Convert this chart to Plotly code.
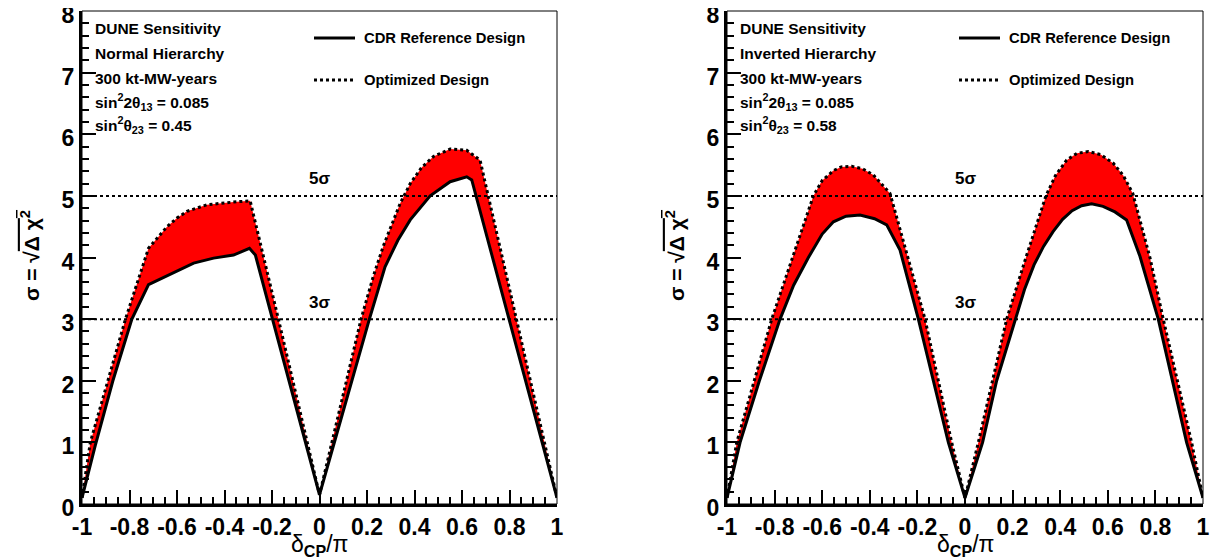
import numpy as np
import plotly.graph_objects as go

# ---------------- data ----------------
NH_CDR_X = [-1, -0.944, -0.87, -0.79, -0.72, -0.614, -0.53, -0.446, -0.362, -0.295, -0.27, -0.198, 0,
            0.21, 0.276, 0.33, 0.382, 0.466, 0.55, 0.62, 0.641, 0.798, 1]
NH_CDR_Y = [0.1, 0.95, 2.0, 3.0, 3.56, 3.75, 3.91, 3.99, 4.04, 4.15, 4.04, 3.0, 0.15,
            3.0, 3.85, 4.28, 4.61, 5.0, 5.23, 5.31, 5.26, 3.0, 0.1]
NH_OPT_X = [-1, -0.965, -0.817, -0.72, -0.642, -0.6, -0.558, -0.474, -0.362, -0.292, -0.173, 0,
            0.175, 0.227, 0.27, 0.34, 0.382, 0.43, 0.48, 0.55, 0.62, 0.676, 0.829, 1]
NH_OPT_Y = [0.1, 1.0, 3.0, 4.15, 4.5, 4.64, 4.75, 4.855, 4.9, 4.92, 3.0, 0.15,
            3.0, 3.7, 4.2, 4.88, 5.2, 5.46, 5.64, 5.76, 5.74, 5.58, 3.0, 0.1]

IH_CDR_X = [-1, -0.945, -0.864, -0.777, -0.72, -0.658, -0.6, -0.553, -0.5, -0.441, -0.38, -0.329,
            -0.273, -0.196, -0.133, -0.07, 0,
            0.074, 0.133, 0.21, 0.25, 0.29, 0.33, 0.37, 0.41, 0.45, 0.49, 0.532, 0.58, 0.63, 0.679,
            0.735, 0.812, 0.931, 1]
IH_CDR_Y = [0.1, 1, 2, 3, 3.55, 4, 4.38, 4.58, 4.67, 4.69, 4.63, 4.53,
            4.12, 3, 2, 1, 0.1,
            1, 2, 3, 3.48, 3.88, 4.18, 4.42, 4.62, 4.76, 4.84, 4.87, 4.83, 4.74, 4.61,
            4.02, 3, 1, 0.1]
IH_OPT_X = [-1, -0.959, -0.812, -0.725, -0.637, -0.6, -0.553, -0.52, -0.476, -0.43, -0.385, -0.315,
            -0.168, -0.056, 0,
            0.056, 0.175, 0.256, 0.34, 0.38, 0.427, 0.47, 0.518, 0.57, 0.623, 0.665, 0.705, 0.777,
            0.833, 0.952, 1]
IH_OPT_Y = [0.1, 1, 3, 4, 5, 5.25, 5.41, 5.47, 5.48, 5.44, 5.34, 5.04,
            3, 1, 0.1,
            1, 3, 4, 5, 5.33, 5.58, 5.69, 5.72, 5.67, 5.53, 5.33, 5.04, 4.0,
            3, 1, 0.1]

SIGMA_LEVELS = [3, 5]
SIGMA_LABELS = ["3σ", "5σ"]
X_TICKS = [-1, -0.8, -0.6, -0.4, -0.2, 0, 0.2, 0.4, 0.6, 0.8, 1]
X_TICK_LABELS = ["-1", "-0.8", "-0.6", "-0.4", "-0.2", "0", "0.2", "0.4", "0.6", "0.8", "1"]
Y_TICKS = [0, 1, 2, 3, 4, 5, 6, 7, 8]
Y_TICK_LABELS = ["0", "1", "2", "3", "4", "5", "6", "7", "8"]

PANEL_TEXT = [
    ["DUNE Sensitivity", "Normal Hierarchy", "300 kt-MW-years",
     "sin<sup>2</sup>2θ<sub>13</sub> = 0.085", "sin<sup>2</sup>θ<sub>23</sub> = 0.45"],
    ["DUNE Sensitivity", "Inverted Hierarchy", "300 kt-MW-years",
     "sin<sup>2</sup>2θ<sub>13</sub> = 0.085", "sin<sup>2</sup>θ<sub>23</sub> = 0.58"],
]
LEGEND_NAMES = ["CDR Reference Design", "Optimized Design"]

# ---------------- layout geometry ----------------
PAGE_OFF = 8                       # default page margin around the plot div
W, H = 1221 - PAGE_OFF, 560 - PAGE_OFF
FONT = "Liberation Sans, Arial, Helvetica, sans-serif"
PANEL_PX = [(82, 557), (727, 1203)]   # left/right pixel of each panel (screen)
TOP_PX, BOT_PX = 11, 504


def px(xp):
    return (xp - PAGE_OFF) / W


def py(yp):
    return 1 - (yp - PAGE_OFF) / H


fig = go.Figure()

panels = [
    (NH_CDR_X, NH_CDR_Y, NH_OPT_X, NH_OPT_Y),
    (IH_CDR_X, IH_CDR_Y, IH_OPT_X, IH_OPT_Y),
]

for i, (cx, cy, ox, oy) in enumerate(panels):
    xa = "x" if i == 0 else "x2"
    ya = "y" if i == 0 else "y2"
    # red band between the two curves
    fig.add_trace(go.Scatter(x=cx, y=cy, mode="lines", line=dict(width=0, color="red"),
                             xaxis=xa, yaxis=ya, showlegend=False, hoverinfo="skip"))
    fig.add_trace(go.Scatter(x=ox, y=oy, mode="lines", line=dict(width=0, color="red"),
                             fill="tonexty", fillcolor="#ff0000",
                             xaxis=xa, yaxis=ya, showlegend=False, hoverinfo="skip"))
    # curves
    fig.add_trace(go.Scatter(x=cx, y=cy, mode="lines", line=dict(width=3, color="black"),
                             xaxis=xa, yaxis=ya, showlegend=False, name=LEGEND_NAMES[0]))
    fig.add_trace(go.Scatter(x=ox, y=oy, mode="lines",
                             line=dict(width=3, color="black", dash="dot"),
                             xaxis=xa, yaxis=ya, showlegend=False, name=LEGEND_NAMES[1]))
    # sigma reference lines
    for lev, lab in zip(SIGMA_LEVELS, SIGMA_LABELS):
        fig.add_shape(type="line", xref=xa, yref=ya, x0=X_TICKS[0], x1=X_TICKS[-1], y0=lev, y1=lev,
                      line=dict(color="black", width=2, dash="dot"), layer="above")
        fig.add_annotation(xref=xa, yref=ya, x=0, y=lev, yshift=17, text="<b>%s</b>" % lab,
                           showarrow=False, font=dict(family=FONT, size=17, color="black"))

    x0p, x1p = PANEL_PX[i]
    off = x0p - PANEL_PX[0][0]
    # frame (thin top/right)
    fig.add_shape(type="rect", xref="paper", yref="paper", x0=px(x0p), x1=px(x1p),
                  y0=py(BOT_PX), y1=py(TOP_PX), line=dict(color="black", width=1), layer="above")
    # info text
    for k, t in enumerate(PANEL_TEXT[i]):
        yy = [28, 53, 78, 102, 125][k]
        fig.add_annotation(xref="paper", yref="paper", x=px(93 + off), y=py(yy),
                           xanchor="left", yanchor="middle", text="<b>%s</b>" % t,
                           showarrow=False, font=dict(family=FONT, size=15.5, color="black"))
    # legend
    for k, (nm, dash) in enumerate(zip(LEGEND_NAMES, ["solid", "dot"])):
        yy = [38, 80][k]
        fig.add_shape(type="line", xref="paper", yref="paper", x0=px(314 + off), x1=px(355 + off),
                      y0=py(yy), y1=py(yy), line=dict(color="black", width=3, dash=dash))
        fig.add_annotation(xref="paper", yref="paper", x=px(362 + off), y=py(yy),
                           xanchor="left", yanchor="middle", text="<b>%s</b>" % nm,
                           showarrow=False, font=dict(family=FONT, size=14.8, color="black"))
    # axis titles
    fig.add_annotation(xref="paper", yref="paper", x=px((x0p + x1p) / 2), y=py(545),
                       xanchor="center", yanchor="middle",
                       text="δ<b><sub>CP</sub></b>/π", showarrow=False,
                       font=dict(family=FONT, size=23, color="black"))
    fig.add_annotation(xref="paper", yref="paper", x=px(30 + off), y=py(256),
                       xanchor="center", yanchor="middle", textangle=-90,
                       text="<b>σ = √<span style='text-decoration:overline'>Δ χ<sup>2</sup></span></b>",
                       showarrow=False, font=dict(family=FONT, size=21, color="black"))

axis_common = dict(showgrid=False, zeroline=False, showline=True, linecolor="black", linewidth=3,
                   ticks="inside", ticklen=14, tickwidth=2, tickcolor="black", mirror=False,
                   automargin=False, ticklabeloverflow="allow",
                   tickfont=dict(family=FONT, size=23, color="black", weight="bold"))

xminor = dict(ticks="inside", ticklen=7, tickwidth=2, tickcolor="black",
              tickmode="array", tickvals=list(np.round(np.arange(-1, 1.0001, 0.05), 3)))
yminor = dict(ticks="inside", ticklen=7, tickwidth=2, tickcolor="black",
              tickmode="array", tickvals=list(np.round(np.arange(0, 8.0001, 0.2), 3)))

for i in range(2):
    sfx = "" if i == 0 else "2"
    x0p, x1p = PANEL_PX[i]
    fig.update_layout(**{
        "xaxis" + sfx: dict(axis_common, domain=[px(x0p), px(x1p)], range=[-1, 1],
                            anchor="y" + sfx, tickmode="array", tickvals=X_TICKS,
                            ticktext=X_TICK_LABELS, minor=xminor, ticklabelstandoff=0),
        "yaxis" + sfx: dict(axis_common, domain=[py(BOT_PX), py(TOP_PX)], range=[0, 8],
                            anchor="x" + sfx, tickmode="array", tickvals=Y_TICKS,
                            ticktext=Y_TICK_LABELS, minor=yminor, ticklabelshift=4),
    })

fig.update_layout(width=W, height=H, margin=dict(l=0, r=0, t=0, b=0, autoexpand=False),
                  paper_bgcolor="white", plot_bgcolor="white", showlegend=False,
                  font=dict(family=FONT, color="black"))

fig.write_html("out.html")
